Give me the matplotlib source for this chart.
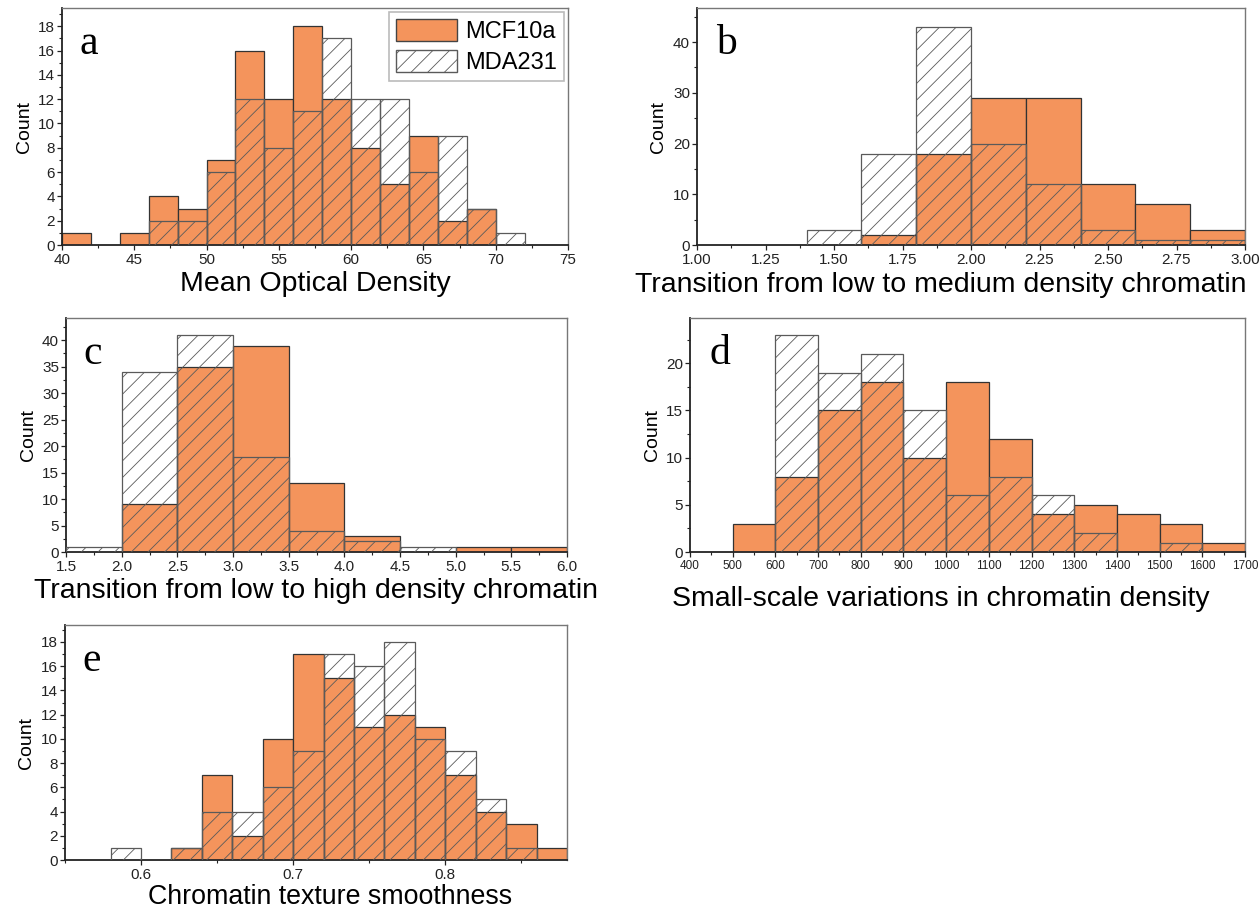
import numpy as np
import matplotlib.pyplot as plt
from matplotlib.ticker import MultipleLocator, FormatStrFormatter
from matplotlib.patches import Patch

plt.rcParams['font.family'] = ['Liberation Sans', 'DejaVu Sans']
plt.rcParams['hatch.linewidth'] = 0.6

ORANGE = '#F4945C'

# histogram bins and counts
a_edges = [40, 42, 44, 46, 48, 50, 52, 54, 56, 58, 60, 62, 64, 66, 68, 70, 72]
a_mcf = [1, 0, 1, 4, 3, 7, 16, 12, 18, 12, 8, 5, 9, 2, 3, 0]
a_mda = [0, 0, 0, 2, 2, 6, 12, 8, 11, 17, 12, 12, 6, 9, 3, 1]

b_edges = [1.0, 1.2, 1.4, 1.6, 1.8, 2.0, 2.2, 2.4, 2.6, 2.8, 3.0]
b_mcf = [0, 0, 0, 2, 18, 29, 29, 12, 8, 3]
b_mda = [0, 0, 3, 18, 43, 20, 12, 3, 1, 1]

c_edges = [1.5, 2.0, 2.5, 3.0, 3.5, 4.0, 4.5, 5.0, 5.5, 6.0]
c_mcf = [0, 9, 35, 39, 13, 3, 0, 1, 1]
c_mda = [1, 34, 41, 18, 4, 2, 1, 0, 0]

d_edges = [400, 500, 600, 700, 800, 900, 1000, 1100, 1200, 1300, 1400, 1500, 1600, 1700]
d_mcf = [0, 3, 8, 15, 18, 10, 18, 12, 4, 5, 4, 3, 1]
d_mda = [0, 0, 23, 19, 21, 15, 6, 8, 6, 2, 0, 1, 0]

e_edges = [0.58, 0.60, 0.62, 0.64, 0.66, 0.68, 0.70, 0.72, 0.74, 0.76, 0.78,
           0.80, 0.82, 0.84, 0.86, 0.88]
e_mcf = [0, 0, 1, 7, 2, 10, 17, 15, 11, 12, 11, 7, 4, 3, 1]
e_mda = [1, 0, 1, 4, 4, 6, 9, 17, 16, 18, 10, 9, 5, 1, 0]

xlabels = ['Mean Optical Density',
           'Transition from low to medium density chromatin',
           'Transition from low to high density chromatin',
           'Small-scale variations in chromatin density',
           'Chromatin texture smoothness']

W, H = 1260, 913
fig = plt.figure(figsize=(W / 100, H / 100), dpi=100)


def make_axes(x0, y0, x1, y1):
    # pixel box (top-left origin) -> figure fraction
    return fig.add_axes([x0 / W, 1 - y1 / H, (x1 - x0) / W, (y1 - y0) / H])


def draw(ax, edges, mcf, mda, letter, xlabel, xlim, ylim, xmaj, xmin, ymaj, ymin,
         xfmt=None, xsize=11, labsize=20.5):
    edges = np.array(edges, dtype=float)
    left = edges[:-1]
    widths = np.diff(edges)
    ax.bar(left, mcf, widths, align='edge', color=ORANGE, edgecolor='#333333',
           linewidth=0.9, zorder=2)
    ax.bar(left, mda, widths, align='edge', facecolor='none', edgecolor='#5a5a5a',
           hatch='//', linewidth=0.9, zorder=3)
    ax.set_xlim(*xlim)
    ax.set_ylim(*ylim)
    ax.xaxis.set_major_locator(MultipleLocator(xmaj))
    ax.xaxis.set_minor_locator(MultipleLocator(xmin))
    ax.yaxis.set_major_locator(MultipleLocator(ymaj))
    ax.yaxis.set_minor_locator(MultipleLocator(ymin))
    if xfmt:
        ax.xaxis.set_major_formatter(FormatStrFormatter(xfmt))
    ax.tick_params(which='both', direction='out', top=False, right=False,
                   colors='#222222')
    ax.tick_params(which='major', length=3.5, width=0.9)
    ax.tick_params(which='minor', length=2, width=0.8)
    ax.tick_params(axis='y', labelsize=11, pad=1.5)
    ax.tick_params(axis='x', labelsize=xsize, pad=2)
    for s in ['top', 'right']:
        ax.spines[s].set_color('#777777')
        ax.spines[s].set_linewidth(1.0)
    for s in ['left', 'bottom']:
        ax.spines[s].set_color('#222222')
        ax.spines[s].set_linewidth(1.3)
    ax.set_xlabel(xlabel, fontsize=labsize, labelpad=3)
    ax.set_ylabel('Count', fontsize=14, labelpad=4)
    ax.text(0.035, 0.93, letter, transform=ax.transAxes, fontsize=30,
            family=['Liberation Serif', 'DejaVu Serif'], va='top', ha='left')


ax_a = make_axes(62, 8, 568, 245)
draw(ax_a, a_edges, a_mcf, a_mda, 'a', xlabels[0], (40, 75), (0, 19.5),
     5, 2.5, 2, 1)
handles = [Patch(facecolor=ORANGE, edgecolor='#444444', label='MCF10a'),
           Patch(facecolor='white', edgecolor='#5a5a5a', hatch='//', label='MDA231')]
leg = ax_a.legend(handles=handles, loc='upper right', fontsize=17,
                  frameon=True, fancybox=False, borderaxespad=0.15,
                  handlelength=2.6, handleheight=1.05, handletextpad=0.35,
                  borderpad=0.3, labelspacing=0.3)
leg.get_frame().set_edgecolor('#aaaaaa')
leg.get_frame().set_linewidth(1.2)

ax_b = make_axes(697, 8, 1245, 245)
draw(ax_b, b_edges, b_mcf, b_mda, 'b', xlabels[1], (1.0, 3.0), (0, 46.7),
     0.25, 0.125, 10, 5, '%.2f')
ax_b.xaxis.label.set_horizontalalignment('right')
ax_b.xaxis.set_label_coords(1.003, -0.112)

ax_c = make_axes(66, 318, 567, 552)
draw(ax_c, c_edges, c_mcf, c_mda, 'c', xlabels[2], (1.5, 6.0), (0, 44.2),
     0.5, 0.25, 5, 2.5, '%.1f')

ax_d = make_axes(690, 318, 1245, 552)
draw(ax_d, d_edges, d_mcf, d_mda, 'd', xlabels[3], (400, 1700), (0, 24.8),
     100, 50, 5, 2.5, xsize=8.5)
ax_d.xaxis.set_label_coords(0.452, -0.145)

ax_e = make_axes(65, 625, 567, 860)
draw(ax_e, e_edges, e_mcf, e_mda, 'e', xlabels[4], (0.55, 0.88), (0, 19.4),
     0.1, 0.05, 2, 1, '%.1f', labsize=19.3)
ax_e.xaxis.set_label_coords(0.528, -0.1)

fig.savefig('out.png', dpi=100)
